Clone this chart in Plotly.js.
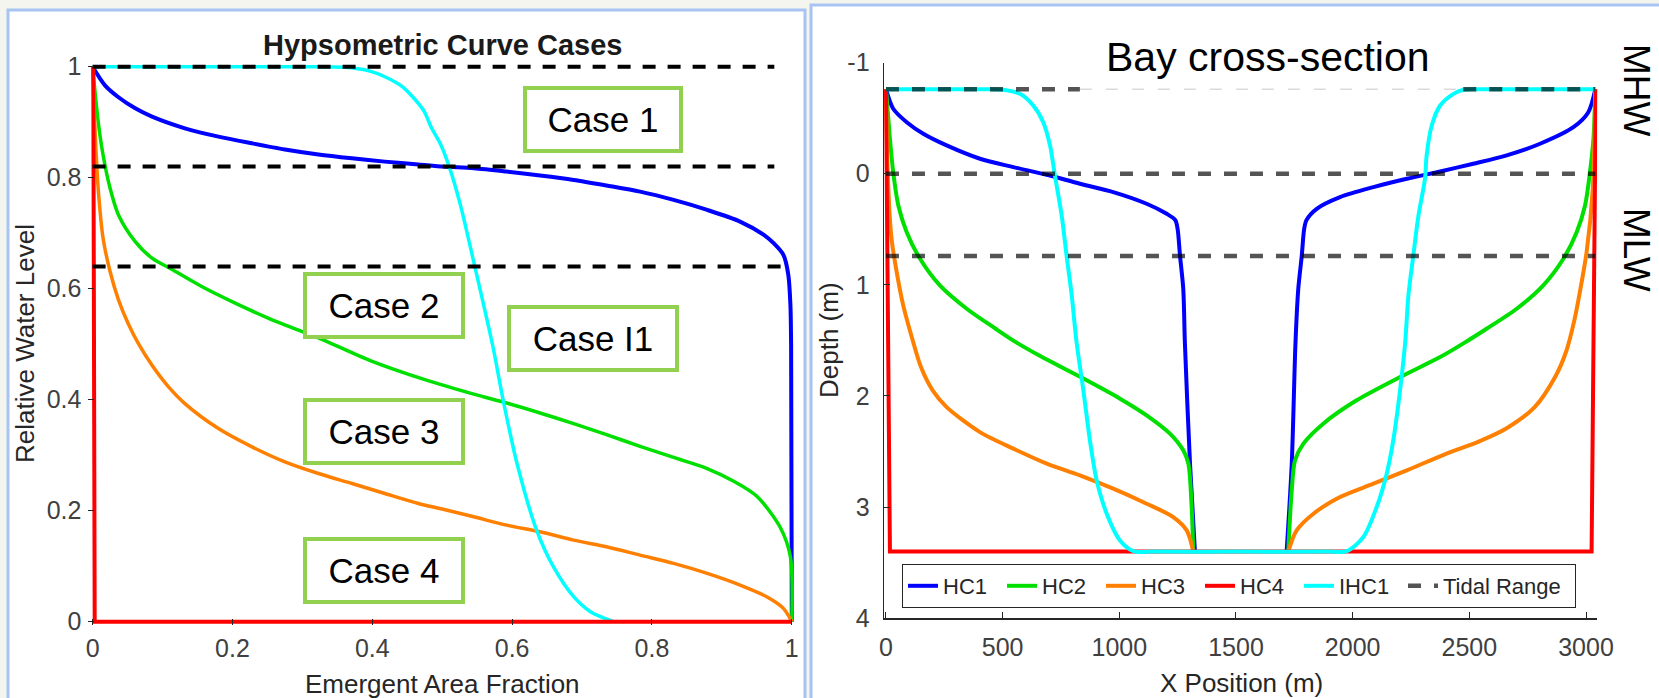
<!DOCTYPE html>
<html>
<head>
<meta charset="utf-8">
<script src="https://cdn.plot.ly/plotly-3.0.1.min.js"></script>
<style>
html,body{margin:0;padding:0;background:#f5f5ef;}
#chart{width:1659px;height:698px;}
</style>
</head>
<body>
<div id="chart"></div>
<script>
// ---------- Left chart: Hypsometric Curve Cases (emergent area fraction vs relative water level)
const hc1Frac  = [0, 0.018, 0.037, 0.061, 0.085, 0.132, 0.180, 0.228, 0.275, 0.323, 0.371, 0.418, 0.466, 0.502, 0.545, 0.592, 0.640, 0.688, 0.735, 0.783, 0.831, 0.879, 0.926, 0.960, 0.974, 0.988, 0.995, 0.998, 0.999, 1.0];
const hc1Level = [1, 0.966, 0.945, 0.925, 0.910, 0.889, 0.874, 0.862, 0.851, 0.842, 0.835, 0.829, 0.824, 0.820, 0.817, 0.811, 0.804, 0.796, 0.786, 0.775, 0.760, 0.742, 0.721, 0.697, 0.682, 0.661, 0.625, 0.571, 0.499, 0];

const hc2Frac  = [0, 0.008, 0.015, 0.025, 0.037, 0.061, 0.085, 0.113, 0.156, 0.204, 0.251, 0.299, 0.322, 0.398, 0.473, 0.545, 0.592, 0.640, 0.688, 0.735, 0.783, 0.831, 0.879, 0.917, 0.950, 0.983, 0.998, 1.0];
const hc2Level = [1, 0.901, 0.841, 0.781, 0.733, 0.685, 0.655, 0.635, 0.604, 0.574, 0.547, 0.523, 0.512, 0.470, 0.437, 0.410, 0.394, 0.376, 0.357, 0.337, 0.316, 0.296, 0.276, 0.253, 0.226, 0.171, 0.117, 0.0];

const hc3Frac  = [0, 0.003, 0.008, 0.015, 0.025, 0.037, 0.051, 0.066, 0.085, 0.108, 0.132, 0.180, 0.228, 0.275, 0.323, 0.371, 0.418, 0.466, 0.500, 0.545, 0.592, 0.640, 0.688, 0.735, 0.783, 0.831, 0.879, 0.926, 0.964, 0.988, 1.0];
const hc3Level = [1, 0.90, 0.781, 0.691, 0.631, 0.580, 0.537, 0.500, 0.462, 0.424, 0.393, 0.348, 0.315, 0.288, 0.267, 0.249, 0.231, 0.213, 0.203, 0.189, 0.174, 0.162, 0.147, 0.135, 0.120, 0.105, 0.087, 0.066, 0.045, 0.024, 0.0];

const hc4Frac  = [0.001, 0.003, 1.0];
const hc4Level = [1, 0, 0];

const ihc1Frac  = [0, 0.15, 0.30, 0.361, 0.394, 0.418, 0.443, 0.473, 0.485, 0.497, 0.510, 0.526, 0.545, 0.572, 0.588, 0.607, 0.635, 0.659, 0.688, 0.712, 0.745];
const ihc1Level = [1, 1, 1, 0.999, 0.993, 0.982, 0.964, 0.922, 0.889, 0.862, 0.820, 0.751, 0.649, 0.499, 0.394, 0.285, 0.165, 0.099, 0.045, 0.018, 0.0];

const levelLines   = [1, 0.82, 0.64];
const levelLineEnd = [0.975, 0.975, 0.99];
const caseLabels   = ['Case 1', 'Case 2', 'Case I1', 'Case 3', 'Case 4'];

// ---------- Right chart: Bay cross-section (x position in m vs depth in m); null = break at the channel floor
const hc1X     = [0, 31, 89, 160, 260, 403, 546, 689, 831, 974, 1117, 1203, 1240, 1250, 1260, 1274, 1281, 1303, 1324, null, 1717, 1739, 1755, 1767, 1782, 1792, 1802, 1846, 1946, 2089, 2232, 2375, 2517, 2660, 2803, 2946, 3010, 3040];
const hc1Depth = [-0.76, -0.584, -0.463, -0.359, -0.254, -0.134, -0.059, 0.010, 0.091, 0.166, 0.271, 0.361, 0.418, 0.50, 0.736, 1.035, 1.52, 2.609, 3.40, null, 3.40, 2.609, 1.52, 1.035, 0.736, 0.50, 0.418, 0.316, 0.211, 0.121, 0.046, -0.020, -0.089, -0.164, -0.269, -0.418, -0.553, -0.76];

const hc2X     = [0, 17, 31, 53, 89, 146, 231, 346, 470, 560, 665, 834, 1003, 1117, 1217, 1274, 1296, 1310, 1317, null, 1724, 1739, 1753, 1789, 1874, 2017, 2203, 2375, 2480, 2574, 2703, 2817, 2903, 2960, 2996, 3017, 3032, 3040];
const hc2Depth = [-0.76, -0.314, -0.014, 0.286, 0.526, 0.766, 1.005, 1.215, 1.395, 1.52, 1.645, 1.830, 2.024, 2.174, 2.339, 2.489, 2.609, 2.999, 3.40, null, 3.40, 2.849, 2.579, 2.429, 2.249, 2.039, 1.830, 1.65, 1.52, 1.395, 1.215, 1.005, 0.766, 0.526, 0.286, -0.014, -0.314, -0.76];

const hc3X     = [0, 10, 24, 46, 74, 112, 150, 200, 260, 403, 546, 689, 831, 974, 1117, 1231, 1289, 1317, null, 1724, 1760, 1832, 1946, 2089, 2232, 2400, 2540, 2660, 2780, 2870, 2915, 2950, 2975, 3003, 3029, 3040];
const hc3Depth = [-0.76, 0.136, 0.586, 0.886, 1.185, 1.48, 1.74, 1.95, 2.10, 2.325, 2.474, 2.609, 2.714, 2.834, 2.969, 3.089, 3.209, 3.40, null, 3.40, 3.209, 3.059, 2.909, 2.789, 2.669, 2.52, 2.41, 2.29, 2.10, 1.82, 1.60, 1.32, 1.05, 0.70, 0.136, -0.76];

const hc4X     = [0, 17, 3024, 3042];
const hc4Depth = [-0.76, 3.40, 3.40, -0.76];

const ihc1X     = [0, 250, 420, 503, 574, 631, 674, 703, 724, 753, 774, 796, 817, 846, 874, 903, 946, 1003, 1060, 1150, 1500, 1890, 1975, 2046, 2103, 2146, 2174, 2203, 2225, 2239, 2260, 2282, 2310, 2317, 2339, 2375, 2432, 2474, 2560, 2800, 3040];
const ihc1Depth = [-0.76, -0.76, -0.76, -0.755, -0.718, -0.613, -0.463, -0.254, 0.016, 0.376, 0.736, 1.095, 1.52, 1.95, 2.40, 2.759, 3.059, 3.30, 3.395, 3.40, 3.40, 3.40, 3.395, 3.269, 2.999, 2.699, 2.40, 1.95, 1.52, 1.095, 0.736, 0.376, 0.046, -0.164, -0.433, -0.613, -0.718, -0.755, -0.76, -0.76, -0.76];

const tideDepth  = [-0.76, 0, 0.74];    // MHW, mean level, MLW
const tideXStart = 0;
const tideXEnd   = 3040;
const mhwThinStart = 831;               // thin faint part of the MHW line
const mhwThinEnd   = 2474;

const xTicks2 = [0, 500, 1000, 1500, 2000, 2500, 3000];
const yTicks2 = [-1, 0, 1, 2, 3, 4];
const yTickText2 = ['-1', '0', '1', '2', '3', '4'];
const xTicks1 = [0, 0.2, 0.4, 0.6, 0.8, 1];
const yTicks1 = [0, 0.2, 0.4, 0.6, 0.8, 1];

// ---------- styling helpers (pixel -> paper)
const W = 1659, H = 698;
const fx = p => p / W;
const fy = p => 1 - p / H;

const C = {blue:'#0000ff', green:'#00e000', orange:'#ff8000', red:'#ff0000', cyan:'#00ffff'};
const FONT = 'Liberation Sans, Arial, sans-serif';

const traces = [];
function line(x, y, color, width, name, axis, show, smooth, extra) {
  const ln = {color:color, width:width};
  if (smooth) { ln.shape = 'spline'; ln.smoothing = 0.8; }
  const t = Object.assign({type:'scatter', mode:'lines', x:x, y:y, name:name,
    line:ln, showlegend:show, hoverinfo:'skip', connectgaps:false,
    xaxis: axis === 2 ? 'x2' : 'x', yaxis: axis === 2 ? 'y2' : 'y'}, extra || {});
  traces.push(t);
}

// left chart
line(hc1Frac, hc1Level, C.blue, 4, 'HC1', 1, false, true);
line(hc2Frac, hc2Level, C.green, 3.5, 'HC2', 1, false, true);
line(hc3Frac, hc3Level, C.orange, 3.5, 'HC3', 1, false, true);
line(ihc1Frac, ihc1Level, C.cyan, 3.5, 'IHC1', 1, false, true);
line(hc4Frac, hc4Level, C.red, 4, 'HC4', 1, false, false);
{
  const lx = [], ly = [];
  levelLines.forEach((v, i) => { lx.push(0, levelLineEnd[i], null); ly.push(v, v, null); });
  traces.push({type:'scatter', mode:'lines', x:lx, y:ly, xaxis:'x', yaxis:'y', showlegend:false, hoverinfo:'skip',
    line:{color:'#000000', width:4, dash:'13px,12px'}});
}

// right chart
line(hc1X, hc1Depth, C.blue, 4, 'HC1', 2, true, true, {legendwidth:54});
line(hc2X, hc2Depth, C.green, 4, 'HC2', 2, true, true, {legendwidth:54});
line(hc3X, hc3Depth, C.orange, 4, 'HC3', 2, true, true, {legendwidth:54});
line(hc4X, hc4Depth, C.red, 4, 'HC4', 2, true, false, {legendwidth:54});
line(ihc1X, ihc1Depth, C.cyan, 4, 'IHC1', 2, true, true, {legendwidth:59});
{
  // thin faint middle part of MHW
  traces.push({type:'scatter', mode:'lines', x:[mhwThinStart, mhwThinEnd], y:[tideDepth[0], tideDepth[0]],
    xaxis:'x2', yaxis:'y2', showlegend:false, hoverinfo:'skip',
    line:{color:'#c8c8c8', width:1, dash:'12px,14px'}});
  const tx = [tideXStart, mhwThinStart, null, mhwThinEnd, tideXEnd, null];
  const ty = [tideDepth[0], tideDepth[0], null, tideDepth[0], tideDepth[0], null];
  for (let i = 1; i < tideDepth.length; i++) { tx.push(tideXStart, tideXEnd, null); ty.push(tideDepth[i], tideDepth[i], null); }
  traces.push({type:'scatter', mode:'lines', x:tx, y:ty, name:'Tidal Range', xaxis:'x2', yaxis:'y2',
    showlegend:true, legendwidth:127, hoverinfo:'skip', connectgaps:false,
    line:{color:'rgba(0,0,0,0.67)', width:4.5, dash:'13px,13px'}});
}

const tickFont = {family:FONT, size:25, color:'#404040'};
const axBase = {showgrid:false, zeroline:false, ticks:'inside', ticklen:6, tickwidth:1, tickcolor:'#262626',
  tickfont:tickFont, fixedrange:true};

function ann(text, cx, cy, size, opts) {
  return Object.assign({text:text, x:fx(cx), y:fy(cy), xref:'paper', yref:'paper', xanchor:'center', yanchor:'middle',
    showarrow:false, font:{family:FONT, size:size, color:'#000000'}}, opts || {});
}

const caseBoxes = [
  [603, 120, 152, 59],
  [384, 305, 154, 59],
  [592.5, 338.5, 164, 59],
  [384, 431.5, 154, 59],
  [384, 570, 154, 59]
];

const annotations = [
  ann('<b>Hypsometric Curve Cases</b>', 442, 45, 29, {font:{family:FONT, size:29, color:'#1a1a1a'}}),
  ann('Relative Water Level', 25, 344, 26, {textangle:-90, font:{family:FONT, size:26, color:'#262626'}}),
  ann('Emergent Area Fraction', 442, 684, 26, {font:{family:FONT, size:26, color:'#262626'}}),
  ann('Bay cross-section', 1268, 57, 41),
  ann('Depth (m)', 829, 340, 26, {textangle:-90, font:{family:FONT, size:26, color:'#262626'}}),
  ann('X Position (m)', 1241, 683, 26, {font:{family:FONT, size:26, color:'#262626'}}),
  ann('MHW', 1636, 90, 37, {textangle:90}),
  ann('MLW', 1636, 250, 37, {textangle:90})
];
caseLabels.forEach((t, i) => {
  const b = caseBoxes[i];
  annotations.push(ann(t, b[0], b[1], 35, {width:b[2], height:b[3], bgcolor:'#ffffff',
    bordercolor:'#92d050', borderwidth:4, borderpad:0}));
});

const panelLine = {color:'#a8c4f2', width:3};
const shapes = [
  {type:'rect', xref:'paper', yref:'paper', x0:fx(8), x1:fx(805), y0:fy(705), y1:fy(10), fillcolor:'#ffffff', line:panelLine, layer:'below'},
  {type:'rect', xref:'paper', yref:'paper', x0:fx(811), x1:fx(1668), y0:fy(705), y1:fy(5), fillcolor:'#ffffff', line:panelLine, layer:'below'}
];

const layout = {
  width:W, height:H,
  margin:{l:0, r:0, t:0, b:0},
  paper_bgcolor:'#f5f5ef',
  plot_bgcolor:'#ffffff',
  font:{family:FONT, color:'#262626'},
  xaxis:Object.assign({}, axBase, {domain:[fx(88.4), fx(796)], range:[-0.006, 1.006], tickvals:xTicks1,
    showline:false, anchor:'y', ticklabelstandoff:6}),
  yaxis:Object.assign({}, axBase, {domain:[fy(625), fy(63.4)], range:[-0.006, 1.006], tickvals:yTicks1,
    showline:false, anchor:'x', ticklabelstandoff:6}),
  xaxis2:Object.assign({}, axBase, {domain:[fx(884.1), fx(1597.2)], range:[-8, 3048], tickvals:xTicks2,
    showline:true, linecolor:'#262626', linewidth:1.5, anchor:'y2', ticklabelstandoff:6}),
  yaxis2:Object.assign({}, axBase, {domain:[fy(618.3), fy(62.5)], range:[4, -1], tickvals:yTicks2, ticktext:yTickText2,
    showline:true, linecolor:'#262626', linewidth:1.5, anchor:'x2', ticklabelstandoff:8}),
  showlegend:true,
  legend:{orientation:'h', x:fx(902), y:fy(564), xanchor:'left', yanchor:'top',
    bgcolor:'#ffffff', bordercolor:'#262626', borderwidth:1,
    font:{family:FONT, size:22, color:'#262626'}, traceorder:'normal'},
  shapes:shapes,
  annotations:annotations
};

Plotly.newPlot('chart', traces, layout, {staticPlot:true, displayModeBar:false});
</script>
</body>
</html>
